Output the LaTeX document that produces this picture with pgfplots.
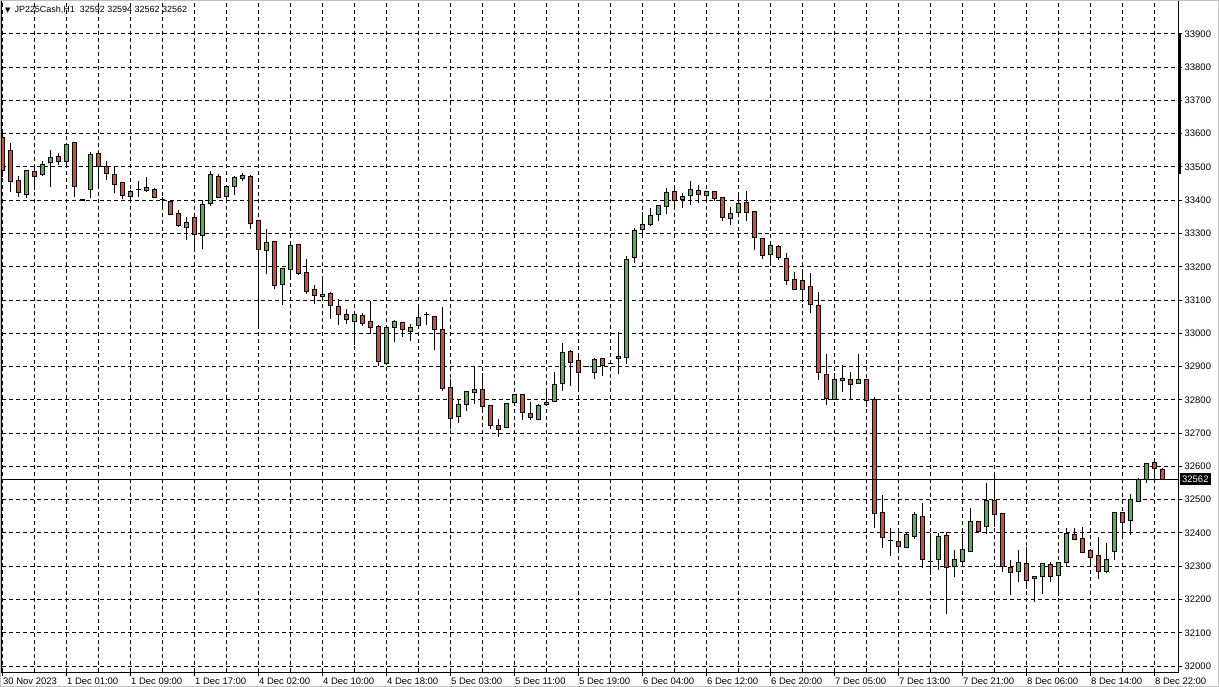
\documentclass[border=0pt]{standalone}
\usepackage{fontspec}
\setmainfont{Liberation Sans}
\newfontfamily\djv{DejaVu Sans}
\usepackage{pgfplots}
\usepackage{pgfplotstable}
\pgfplotsset{compat=1.18}
\definecolor{cred}{RGB}{216,78,44}
\definecolor{cgreen}{RGB}{80,180,70}

\pgfplotstableread{
i O H L C
0 33590 33600 33470 33490
1 33550 33571 33426 33455
2 33459 33472 33411 33424
4 33485 33497 33431 33472
7 33533 33542 33507 33518
9 33573 33575 33411 33441
10 33402 33405 33398 33400
12 33542 33547 33447 33502
13 33503 33519 33460 33479
14 33476 33503 33421 33448
15 33452 33455 33403 33415
17 33431 33459 33411 33431
19 33433 33436 33408 33409
20 33402 33411 33381 33402
21 33397 33402 33356 33358
22 33361 33371 33320 33323
24 33348 33350 33248 33298
27 33472 33478 33408 33408
31 33472 33475 33314 33331
32 33340 33340 33012 33253
34 33277 33277 33132 33144
37 33268 33268 33176 33180
38 33184 33224 33117 33127
39 33133 33145 33087 33115
41 33121 33125 33043 33085
42 33082 33103 33025 33058
43 33058 33074 33028 33041
45 33053 33060 33022 33029
46 33035 33097 32999 33017
47 33020 33026 32902 32915
50 33032 33035 32989 33011
53 33056 33063 33026 33056
54 33051 33051 32951 33012
55 33012 33078 32828 32834
56 32838 32862 32712 32745
60 32832 32881 32765 32781
61 32784 32784 32713 32724
62 32722 32743 32689 32712
65 32817 32817 32738 32763
66 32760 32793 32740 32748
71 32946 32949 32843 32913
72 32919 32934 32837 32883
73 32900 32902 32898 32900
75 32923 32923 32872 32904
76 32910 32912 32908 32910
84 33427 33442 33377 33400
87 33430 33445 33393 33417
89 33426 33426 33399 33405
90 33408 33408 33338 33348
93 33393 33427 33338 33363
94 33366 33369 33252 33288
95 33285 33285 33223 33235
97 33262 33265 33220 33229
98 33226 33241 33145 33160
99 33163 33184 33133 33133
100 33159 33186 33095 33132
101 33141 33180 33060 33087
102 33084 33123 32859 32883
103 32877 32937 32784 32805
106 32862 32883 32799 32847
108 32862 32862 32778 32799
109 32802 32808 32415 32457
110 32460 32514 32355 32385
111 32378 32415 32330 32378
112 32373 32403 32352 32358
115 32448 32490 32295 32319
116 32315 32399 32275 32315
118 32391 32403 32155 32295
122 32433 32433 32400 32403
124 32497 32575 32417 32456
125 32459 32459 32282 32298
126 32295 32319 32213 32282
128 32309 32357 32230 32256
131 32306 32312 32253 32268
134 32396 32414 32378 32381
135 32384 32417 32339 32342
136 32348 32348 32300 32327
137 32333 32387 32262 32283
140 32462 32462 32387 32432
144 32611 32615 32550 32593
145 32592 32594 32562 32562
}\redtab

\pgfplotstableread{
i O H L C
3 33418 33492 33408 33489
5 33478 33519 33472 33509
6 33514 33550 33441 33530
8 33517 33572 33510 33567
11 33433 33545 33408 33539
16 33411 33431 33396 33427
18 33429 33470 33426 33439
23 33317 33349 33280 33333
25 33294 33402 33253 33388
26 33390 33487 33383 33478
28 33411 33441 33398 33441
29 33441 33473 33417 33468
30 33465 33482 33458 33474
33 33250 33314 33177 33274
35 33147 33194 33086 33194
36 33193 33278 33163 33265
40 33111 33172 33108 33118
44 33037 33056 32966 33056
48 32909 33017 32905 33017
49 33019 33040 32973 33035
51 33005 33028 32978 33018
52 33024 33078 33012 33048
57 32751 32803 32730 32787
58 32787 32826 32768 32826
59 32823 32898 32787 32832
63 32718 32792 32716 32790
64 32793 32817 32785 32817
67 32742 32787 32740 32784
68 32787 32832 32784 32793
69 32796 32884 32793 32847
70 32849 32970 32828 32943
74 32881 32926 32863 32920
77 32924 33005 32879 32930
78 32927 33233 32909 33223
79 33229 33318 33211 33309
80 33312 33365 33292 33327
81 33327 33378 33322 33354
82 33357 33384 33339 33384
83 33381 33438 33360 33423
85 33402 33423 33377 33411
86 33414 33457 33387 33432
88 33414 33426 33399 33426
91 33344 33381 33326 33360
92 33363 33423 33357 33390
96 33238 33268 33214 33265
104 32802 32880 32800 32862
105 32859 32904 32823 32865
107 32850 32937 32850 32862
113 32355 32403 32355 32394
114 32388 32463 32382 32454
117 32319 32400 32290 32388
119 32298 32349 32267 32319
120 32313 32397 32300 32349
121 32343 32475 32343 32433
123 32418 32550 32396 32497
127 32283 32349 32253 32312
129 32262 32272 32193 32269
130 32268 32309 32216 32309
132 32271 32312 32209 32312
133 32312 32414 32300 32399
138 32283 32369 32280 32321
139 32343 32462 32318 32462
141 32438 32518 32393 32502
142 32496 32565 32492 32562
143 32562 32610 32550 32610
}\greentab

\begin{document}
\begin{tikzpicture}
\path[use as bounding box] (0,0) rectangle (1219bp,687bp);
\fill[white] (0,0) rectangle (1219bp,687bp);
\begin{axis}[
  name=ax, at={(2bp,15bp)}, anchor=south west,
  scale only axis, width=1176bp, height=671bp,
  xmin=-0.0625, xmax=146.94, ymin=31982, ymax=33999,
  axis line style={black, line width=1bp},
  xtick={0,8,...,144}, minor xtick={4,12,...,140},
  xticklabels={30 Nov 2023, 1 Dec 01:00, 1 Dec 09:00, 1 Dec 17:00, 4 Dec 02:00, 4 Dec 10:00, 4 Dec 18:00, 5 Dec 03:00, 5 Dec 11:00, 5 Dec 19:00, 6 Dec 04:00, 6 Dec 12:00, 6 Dec 20:00, 7 Dec 05:00, 7 Dec 13:00, 7 Dec 21:00, 8 Dec 06:00, 8 Dec 14:00, 8 Dec 22:00},
  ytick={32000,32100,...,33900},
  yticklabels={32000,32100,32200,32300,32400,32500,32600,32700,32800,32900,33000,33100,33200,33300,33400,33500,33600,33700,33800,33900},
  scaled y ticks=false,
  xtick pos=left, ytick pos=right, yticklabel pos=right,
  tick align=outside, major tick length=4bp, minor tick length=0pt,
  tick style={black, line width=1bp},
  tick label style={font=\fontsize{9.5}{11}\selectfont, black},
  xticklabel style={anchor=north west, inner sep=1bp, xshift=-0.5bp, yshift=-1bp},
  yticklabel style={anchor=west, inner sep=1bp, xshift=1.5bp},
  grid=both,
  major grid style={black, line width=1bp, dash pattern=on 4bp off 3bp},
  minor grid style={black, line width=1bp, dash pattern=on 4bp off 3bp},
]
% wicks
\addplot[black, line width=1bp, -, quiver={u=0, v={\thisrow{H}-\thisrow{L}}}] table[x=i, y=L] {\redtab};
\addplot[black, line width=1bp, -, quiver={u=0, v={\thisrow{H}-\thisrow{L}}}] table[x=i, y=L] {\greentab};
% body outlines
\addplot[black, line width=5bp, -, quiver={u=0, v={abs(\thisrow{O}-\thisrow{C})+3}}] table[x=i, y expr={min(\thisrow{O},\thisrow{C})-1.5}] {\redtab};
\addplot[black, line width=5bp, -, quiver={u=0, v={abs(\thisrow{O}-\thisrow{C})+3}}] table[x=i, y expr={min(\thisrow{O},\thisrow{C})-1.5}] {\greentab};
% body fills
\addplot[cred, line width=3bp, -, quiver={u=0, v={max(abs(\thisrow{O}-\thisrow{C})-3,0)}}] table[x=i, y expr={min(\thisrow{O},\thisrow{C})+1.5}] {\redtab};
\addplot[cgreen, line width=3bp, -, quiver={u=0, v={max(abs(\thisrow{O}-\thisrow{C})-3,0)}}] table[x=i, y expr={min(\thisrow{O},\thisrow{C})+1.5}] {\greentab};
% current price line
\addplot[black, line width=1bp] coordinates {(-1,32562) (150,32562)};
\coordinate (pl) at (axis cs:146.94,32562);
\coordinate (tb1) at (axis cs:146.94,33902);
\coordinate (tb2) at (axis cs:146.94,33478);
\end{axis}
\draw[black, line width=3bp] ([xshift=1bp]tb1) -- ([xshift=1bp]tb2);
\node[fill=black, text=white, anchor=west, inner xsep=2.5bp, inner ysep=0bp, minimum height=12bp, font=\fontsize{9.5}{11}\selectfont, xshift=1.5bp] at (pl) {32562};
\node[anchor=west, inner sep=0bp, font=\fontsize{9}{10}\selectfont] at (5bp,677bp) {{\djv\fontsize{7}{8}\selectfont ▼}\hspace{4bp}JP225Cash,H1\hspace{5bp}32592 32594 32562 32562};
\draw[gray!50, line width=1bp] (0.5bp,0.5bp) rectangle (1218.5bp,686.5bp);
\end{tikzpicture}
\end{document}
